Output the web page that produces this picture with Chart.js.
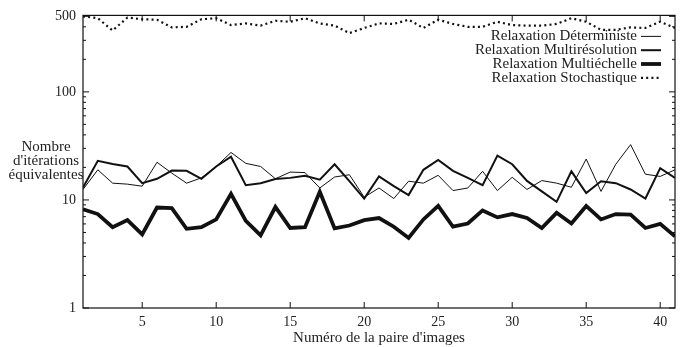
<!DOCTYPE html>
<html><head><meta charset="utf-8">
<script src="https://cdn.jsdelivr.net/npm/chart.js@4/dist/chart.umd.min.js"></script>
<style>html,body{margin:0;padding:0;background:#fff;}</style>
</head><body>
<canvas id="c" width="694" height="347"></canvas>
<script>
const pairs = [1,2,3,4,5,6,7,8,9,10,11,12,13,14,15,16,17,18,19,20,21,22,23,24,25,26,27,28,29,30,31,32,33,34,35,36,37,38,39,40,41];
const seriesNames = ["Relaxation Déterministe","Relaxation Multirésolution","Relaxation Multiéchelle","Relaxation Stochastique"];
const deterministe = [12.5,19,14.3,14.0,13.4,22.3,17.7,14.3,16.0,20.4,27.5,21.8,20.4,15.7,18.1,17.9,12.9,16.3,17.1,10.6,12.9,10.3,14.9,14.3,16.9,12.2,12.9,18.4,12.2,16.2,12.5,15.1,14.3,13.1,23.9,12.0,21.4,32.5,17.3,16.5,19.0];
const multiresolution = [13.0,23,21.5,20.4,14.3,15.7,18.7,18.6,15.7,20.4,25.1,13.7,14.3,15.6,16.0,16.7,15.4,21.4,14.9,10.3,16.5,13.4,11.1,19.0,23.4,18.6,16.0,13.7,25.7,21.4,15.0,12.0,9.6,18.4,11.6,14.9,14.3,12.5,10.3,19.7,16.0];
const multiechelle = [8.2,7.4,5.6,6.5,4.8,8.5,8.4,5.4,5.6,6.6,11.4,6.4,4.7,8.6,5.5,5.6,11.9,5.45,5.8,6.5,6.8,5.65,4.45,6.6,8.8,5.65,6.05,8.0,6.9,7.4,6.8,5.5,7.6,6.05,8.8,6.6,7.4,7.3,5.5,6.0,4.6];
const stochastique = [500,480,370,487,470,465,395,400,470,480,415,430,410,455,445,480,430,410,350,390,430,425,465,390,465,425,400,400,445,415,410,410,425,480,445,375,375,395,390,445,390];
const xTickValues = [5,10,15,20,25,30,35,40];
const yTickLabels = [1,10,100,500];
const yMinorTicks = [2,3,4,5,6,7,8,9,20,30,40,50,60,70,80,90,200,300,400];
const yTitleLines = ["Nombre","d'itérations","équivalentes"];
const xTitle = "Numéro de la paire d'images";

const FONT = "'Liberation Serif', 'DejaVu Serif', serif";
const INK = '#111';

const styles = [
  {w:1, dash:[]},
  {w:2, dash:[]},
  {w:3.8, dash:[]},
  {w:2.2, dash:[2,3.2]}
];
const allSeries = [deterministe, multiresolution, multiechelle, stochastique];

const datasets = allSeries.map((vals, k) => ({
  label: seriesNames[k],
  data: vals.map((v, i) => ({x: pairs[i], y: v})),
  borderColor: INK,
  borderWidth: styles[k].w,
  borderDash: styles[k].dash,
  pointRadius: 0,
  tension: 0,
  fill: false,
  borderJoinStyle: 'miter'
}));

const framePlugin = {
  id: 'frame',
  afterDraw(chart) {
    const {ctx, chartArea: a, scales} = chart;
    const xs = scales.x, ys = scales.y;
    ctx.save();
    ctx.strokeStyle = INK;
    ctx.lineWidth = 1.2;
    ctx.setLineDash([]);
    ctx.strokeRect(a.left, a.top, a.right - a.left, a.bottom - a.top);
    ctx.lineWidth = 1;
    ctx.beginPath();
    const tick = (y, len) => {
      ctx.moveTo(a.left, y); ctx.lineTo(a.left + len, y);
      ctx.moveTo(a.right, y); ctx.lineTo(a.right - len, y);
    };
    yTickLabels.forEach(v => tick(ys.getPixelForValue(v), 6));
    yMinorTicks.forEach(v => tick(ys.getPixelForValue(v), 3));
    xTickValues.forEach(v => {
      const x = xs.getPixelForValue(v);
      ctx.moveTo(x, a.bottom); ctx.lineTo(x, a.bottom - 6);
      ctx.moveTo(x, a.top); ctx.lineTo(x, a.top + 6);
    });
    ctx.stroke();

    ctx.fillStyle = '#222';
    ctx.font = "15px " + FONT;
    ctx.textAlign = 'center';
    ctx.textBaseline = 'middle';
    // y title, horizontal lines
    const yt = [147, 161, 175];
    yTitleLines.forEach((t, i) => ctx.fillText(t, 46, yt[i]));
    // x title
    ctx.fillText(xTitle, (a.left + a.right) / 2, 338);

    // legend
    const textRight = a.right - 38;
    const lineStart = a.right - 34, lineEnd = a.right - 14;
    chart.data.datasets.forEach((ds, i) => {
      const y = a.top + 21 + i * 13.8;
      ctx.textAlign = 'right';
      ctx.fillText(ds.label, textRight, y);
      ctx.beginPath();
      ctx.lineWidth = ds.borderWidth;
      ctx.setLineDash(ds.borderDash || []);
      ctx.moveTo(lineStart, y); ctx.lineTo(lineEnd, y);
      ctx.stroke();
    });
    ctx.restore();
  }
};

new Chart(document.getElementById('c').getContext('2d'), {
  type: 'line',
  data: {datasets},
  options: {
    responsive: false,
    animation: false,
    devicePixelRatio: 1,
    layout: {padding: {top: 12, right: 19, left: 0, bottom: 0}},
    plugins: {legend: {display: false}, tooltip: {enabled: false}},
    scales: {
      x: {
        type: 'linear', min: 1, max: 41,
        afterBuildTicks: s => { s.ticks = xTickValues.map(v => ({value: v})); },
        afterFit: s => { s.height = 39; },
        grid: {display: false, drawTicks: false, tickLength: 0}, border: {display: false},
        ticks: {color: '#222', font: {family: FONT, size: 14}, padding: 6, maxRotation: 0, autoSkip: false, callback: v => String(v)}
      },
      y: {
        type: 'logarithmic', min: 1, max: 510,
        afterBuildTicks: s => { s.ticks = yTickLabels.map(v => ({value: v})); },
        afterFit: s => { s.width = 83; },
        grid: {display: false, drawTicks: false, tickLength: 0}, border: {display: false},
        ticks: {color: '#222', font: {family: FONT, size: 14}, padding: 7, autoSkip: false, callback: v => String(v)}
      }
    }
  },
  plugins: [framePlugin]
});
</script>
</body></html>
